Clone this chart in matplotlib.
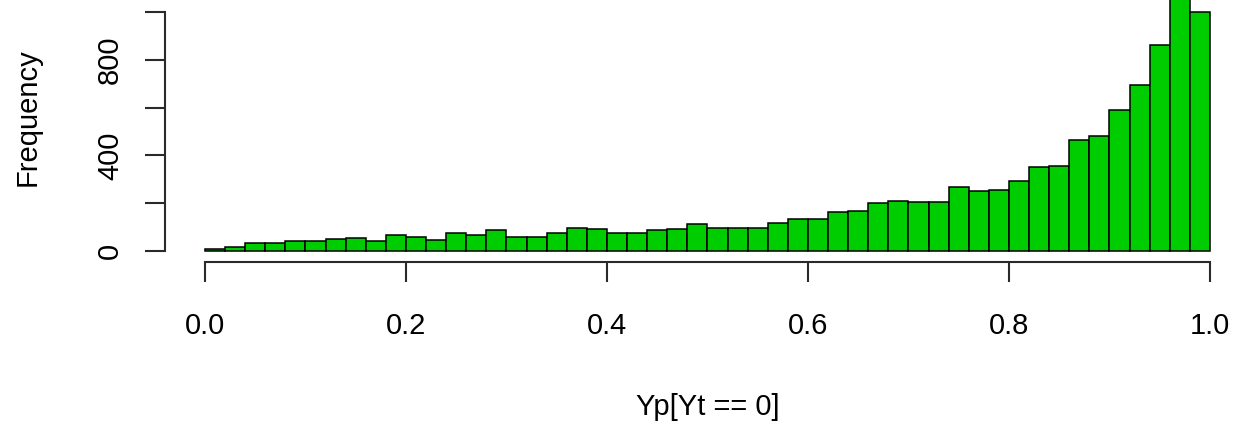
import matplotlib
matplotlib.use("Agg")
import matplotlib.pyplot as plt
import matplotlib.font_manager as fm
import numpy as np

# histogram of Yp[Yt == 0], 50 bins of width 0.02 (counts)
bin_edges = np.linspace(0.0, 1.0, 51)
counts = [7, 17, 35, 35, 42, 42, 50, 56, 42, 67,
          60, 46, 74, 67, 87, 60, 60, 74, 98, 92,
          74, 74, 87, 92, 112, 98, 98, 98, 119, 136,
          136, 163, 168, 200, 211, 206, 206, 268, 251, 256,
          294, 352, 357, 463, 483, 591, 697, 861, 1120, 1000]
x_ticks = [0.0, 0.2, 0.4, 0.6, 0.8, 1.0]
x_ticklabels = ["0.0", "0.2", "0.4", "0.6", "0.8", "1.0"]
y_ticks = [0, 200, 400, 600, 800, 1000]
y_ticklabels = ["0", "", "400", "", "800", ""]

# narrow sans if there is one, R's bitmap font is rather condensed
names = {f.name for f in fm.fontManager.ttflist}
family = "Liberation Sans Narrow" if "Liberation Sans Narrow" in names else "Liberation Sans"
plt.rcParams["font.family"] = [family, "DejaVu Sans"]

fig = plt.figure(figsize=(12.33, 4.26), dpi=100)
# plot region runs past the top and right edge of the picture (cropped R output)
ax = fig.add_axes([0.1336, 0.3857, 0.8803, 0.678])

ax.bar(bin_edges[:-1], counts, width=np.diff(bin_edges), align="edge",
       color="#00CD00", edgecolor="black", linewidth=1.1)

m = max(counts)
ax.set_xlim(-0.04, 1.04)
ax.set_ylim(-0.04 * m, 1.04 * m)

for s in ["top", "right"]:
    ax.spines[s].set_visible(False)
ax.spines["left"].set_bounds(0, 1000)
ax.spines["bottom"].set_bounds(0, 1)
for s in ["left", "bottom"]:
    ax.spines[s].set_color("#2a2a2a")
    ax.spines[s].set_linewidth(1.5)

ax.set_xticks(x_ticks)
ax.set_xticklabels(x_ticklabels)
ax.set_yticks(y_ticks)
ax.set_yticklabels(y_ticklabels)
ax.tick_params(axis="both", length=14.4, width=1.5, color="#2a2a2a",
               labelsize=21)
ax.tick_params(axis="x", pad=22)
ax.tick_params(axis="y", pad=15)
plt.setp(ax.get_yticklabels(), rotation=90, va="center")

ax.set_xlabel("Yp[Yt == 0]", fontsize=21)
ax.xaxis.set_label_coords(0.5, -0.503)
ax.xaxis.label.set_va("center")
ax.set_ylabel("Frequency", fontsize=21)
ax.yaxis.set_label_coords(-0.126, 0.5)
ax.yaxis.label.set_va("center")

fig.savefig("out.png", dpi=100)
